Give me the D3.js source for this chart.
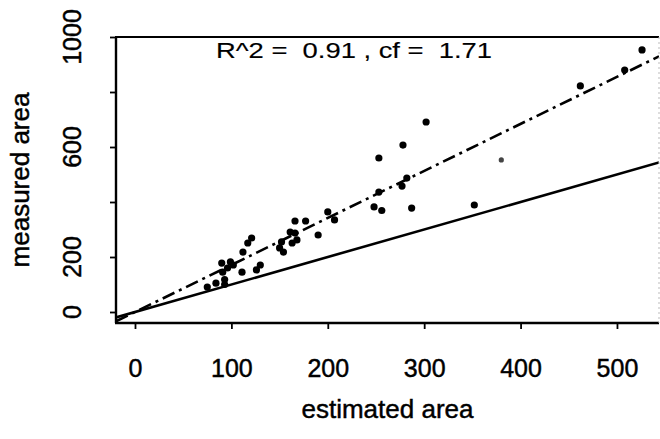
<!DOCTYPE html>
<html><head><meta charset="utf-8">
<script src="https://cdn.jsdelivr.net/npm/d3@7"></script>
<style>
html,body{margin:0;padding:0;background:#fff;}
svg{display:block;}
text{font-family:"Liberation Sans",Arial,Helvetica,sans-serif;fill:#000;stroke:#000;stroke-width:0.45px;}
text.note{stroke-width:0.15px;}
</style></head>
<body>
<svg id="chart" width="660" height="439"></svg>
<script>
// ---- data ----
const estimatedArea = [526,508,462,302,278,253,282,277,253,248,256,287,352,200,207,166,177,190,161,166,152,150,163,168,121,117,112,130,126,99,102,90,91,111,96,84,75,93,93,154];
const measuredArea  = [953,880,822,691,607,560,487,458,436,382,369,378,389,364,335,331,331,280,291,287,255,233,251,262,269,251,218,171,153,182,171,178,145,145,160,105,91,118,100,218];
const faintEstimated = [380];
const faintMeasured  = [553];
const xTicks = [0,100,200,300,400,500];
const yTicks = [0,200,400,600,800,1000];
const yLabels = [0,200,600,1000];
const cf = 1.71;
const r2 = 0.91;
const xTitle = "estimated area";
const yTitle = "measured area";

// ---- layout ----
const plot = {left:116, right:659, top:37, bottom:323};
const x = d3.scaleLinear().domain([-19.7, 543.6]).range([plot.left, plot.right]);
const y = d3.scaleLinear().domain([-40, 1000]).range([plot.bottom, plot.top]);

const svg = d3.select("#chart");
svg.append("defs").append("clipPath").attr("id","clip")
  .append("rect").attr("x",plot.left).attr("y",plot.top)
  .attr("width",plot.right-plot.left).attr("height",plot.bottom-plot.top);

// reference lines (abline)
const xd = x.domain();
const lineGen = d3.line().x(d=>x(d[0])).y(d=>y(d[1]));
const g = svg.append("g").attr("clip-path","url(#clip)");
g.append("path").datum(xd.map(v=>[v, v]))
  .attr("d", lineGen).attr("fill","none").attr("stroke","#000").attr("stroke-width",2.6);
g.append("path").datum(xd.map(v=>[v, cf*v]))
  .attr("d", lineGen).attr("fill","none").attr("stroke","#000").attr("stroke-width",2.6)
  .attr("stroke-dasharray","13,5,3,5");

// points
g.selectAll("circle.pt").data(estimatedArea.map((v,i)=>[v, measuredArea[i]]))
  .join("circle").attr("class","pt")
  .attr("cx",d=>x(d[0])).attr("cy",d=>y(d[1])).attr("r",3.6).attr("fill","#000");
g.selectAll("circle.fp").data(faintEstimated.map((v,i)=>[v, faintMeasured[i]]))
  .join("circle").attr("class","fp")
  .attr("cx",d=>x(d[0])).attr("cy",d=>y(d[1])).attr("r",2.6).attr("fill","#444");

// box
svg.append("line").attr("x1",plot.left-1).attr("x2",plot.right).attr("y1",plot.top).attr("y2",plot.top)
  .attr("stroke","#000").attr("stroke-width",2.2);
svg.append("line").attr("x1",plot.left-1).attr("x2",plot.right).attr("y1",plot.bottom).attr("y2",plot.bottom)
  .attr("stroke","#000").attr("stroke-width",2.4);
svg.append("line").attr("x1",plot.left).attr("x2",plot.left).attr("y1",plot.top).attr("y2",plot.bottom)
  .attr("stroke","#000").attr("stroke-width",2.4);
svg.append("line").attr("x1",plot.right).attr("x2",plot.right).attr("y1",plot.top).attr("y2",plot.bottom)
  .attr("stroke","#bbb").attr("stroke-width",1).attr("stroke-dasharray","2,3");

// axes
const xAxis = svg.append("g").attr("transform",`translate(0,${plot.bottom})`)
  .call(d3.axisBottom(x).tickValues(xTicks).tickSize(6).tickFormat(""));
xAxis.select(".domain").remove();
xAxis.selectAll(".tick line").attr("stroke","#000").attr("stroke-width",1.8);
xAxis.selectAll(".tick").append("text")
  .attr("y",54).attr("text-anchor","middle").attr("font-size","25px")
  .text(d=>d);

const yAxis = svg.append("g").attr("transform",`translate(${plot.left},0)`)
  .call(d3.axisLeft(y).tickValues(yTicks).tickSize(6).tickFormat(""));
yAxis.select(".domain").remove();
yAxis.selectAll(".tick line").attr("stroke","#000").attr("stroke-width",1.8);
svg.selectAll("text.ylab").data(yLabels).join("text").attr("class","ylab")
  .attr("transform",d=>`translate(81,${y(d)}) rotate(-90)`)
  .attr("text-anchor","middle").attr("font-size","25px").text(d=>d);

// titles
svg.append("text").attr("x",(plot.left+plot.right)/2).attr("y",418)
  .attr("text-anchor","middle").attr("font-size","26px").text(xTitle);
svg.append("text").attr("transform",`translate(29,${(plot.top+plot.bottom)/2}) rotate(-90)`)
  .attr("text-anchor","middle").attr("font-size","26px").text(yTitle);

// annotation
svg.append("text").attr("class","note").attr("x",216).attr("y",58).attr("font-size","22px")
  .attr("xml:space","preserve").style("white-space","pre")
  .attr("textLength",276).attr("lengthAdjust","spacingAndGlyphs")
  .text(`R^2 =  ${r2.toFixed(2)} , cf =  ${cf.toFixed(2)}`);
</script>
</body></html>
